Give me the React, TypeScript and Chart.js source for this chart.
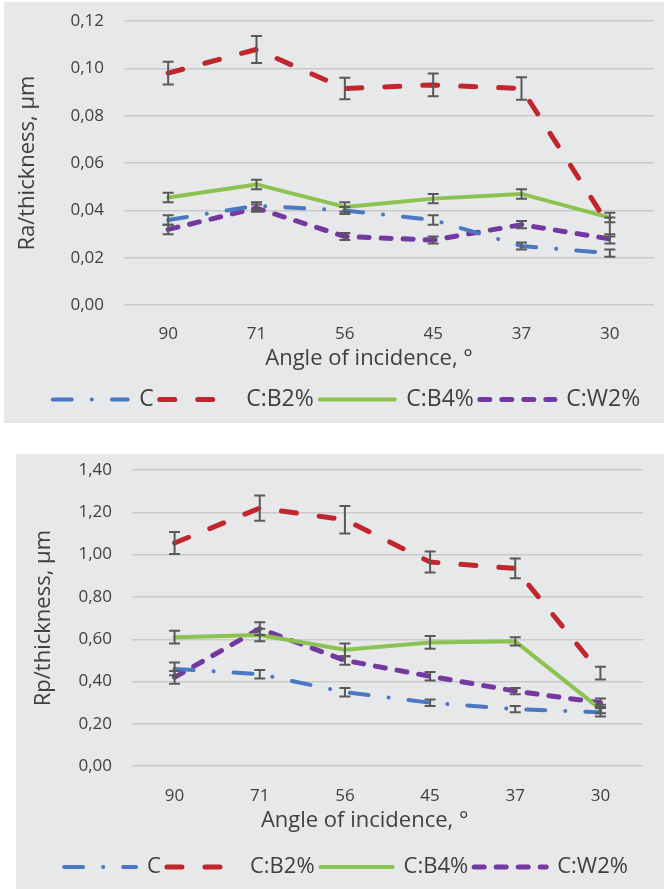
import React, { useEffect, useRef } from "react";
import { Chart, registerables } from "chart.js";

Chart.register(...registerables);

// ---------- data ----------
const categories = ["90", "71", "56", "45", "37", "30"];
const seriesNames = ["C", "C:B2%", "C:B4%", "C:W2%"];

// Ra / thickness (top chart)
const raC = [0.036, 0.042, 0.04, 0.036, 0.025, 0.022];
const raB2 = [0.098, 0.108, 0.0915, 0.093, 0.0915, 0.033];
const raB4 = [0.0455, 0.051, 0.0415, 0.045, 0.047, 0.037];
const raW2 = [0.032, 0.041, 0.029, 0.0275, 0.034, 0.028];
const raErrC = [0.002, 0.0015, 0.0015, 0.002, 0.0015, 0.0015];
const raErrB2 = [0.0048, 0.0057, 0.0045, 0.0048, 0.0047, 0.004];
const raErrB4 = [0.002, 0.002, 0.002, 0.002, 0.002, 0.002];
const raErrW2 = [0.002, 0.0015, 0.0015, 0.0015, 0.0015, 0.002];
const raTickLabels = ["0,00", "0,02", "0,04", "0,06", "0,08", "0,10", "0,12"];

// Rp / thickness (bottom chart)
const rpC = [0.46, 0.435, 0.35, 0.3, 0.27, 0.255];
const rpB2 = [1.055, 1.22, 1.165, 0.965, 0.935, 0.44];
const rpB4 = [0.61, 0.62, 0.55, 0.585, 0.59, 0.27];
const rpW2 = [0.42, 0.65, 0.5, 0.425, 0.355, 0.3];
const rpErrC = [0.03, 0.02, 0.02, 0.015, 0.015, 0.02];
const rpErrB2 = [0.052, 0.06, 0.065, 0.05, 0.047, 0.03];
const rpErrB4 = [0.03, 0.03, 0.03, 0.03, 0.02, 0.02];
const rpErrW2 = [0.03, 0.03, 0.02, 0.02, 0.015, 0.02];
const rpTickLabels = ["0,00", "0,20", "0,40", "0,60", "0,80", "1,00", "1,20", "1,40"];

const xTitle = "Angle of incidence, °";
const raTitle = "Ra/thickness, µm";
const rpTitle = "Rp/thickness, µm";

// ---------- styles ----------
const FONT = "'Open Sans', sans-serif";
const TEXT = "#404040";
const BG = "#e7e8ea";
const GRID = "#c8c9cb";
const ERR = "#595959";
const seriesStyles = [
  { color: "#4a78c2", width: 4, dash: [19, 20, 0.1, 20] },
  { color: "#c0262c", width: 5, dash: [15, 23] },
  { color: "#8cc250", width: 4, dash: [] as number[] },
  { color: "#7438a0", width: 5, dash: [10, 12] },
];

const errorBarPlugin = {
  id: "errorBars",
  afterDatasetsDraw(chart: any) {
    const { ctx } = chart;
    const yScale = chart.scales.y;
    chart.data.datasets.forEach((ds: any, i: number) => {
      const meta = chart.getDatasetMeta(i);
      meta.data.forEach((pt: any, j: number) => {
        const v = ds.data[j];
        const e = ds.errors[j];
        const yT = yScale.getPixelForValue(v + e);
        const yB = yScale.getPixelForValue(v - e);
        const x = pt.x;
        ctx.save();
        ctx.strokeStyle = ERR;
        ctx.lineWidth = 2;
        ctx.setLineDash([]);
        ctx.beginPath();
        ctx.moveTo(x, yT);
        ctx.lineTo(x, yB);
        ctx.moveTo(x - 5.5, yT);
        ctx.lineTo(x + 5.5, yT);
        ctx.moveTo(x - 5.5, yB);
        ctx.lineTo(x + 5.5, yB);
        ctx.stroke();
        ctx.restore();
      });
    });
  },
};

interface Spec {
  values: number[][];
  errors: number[][];
  max: number;
  step: number;
  tickLabels: string[];
  yTitle: string;
  yAxisWidth: number;
  yTitlePad: number;
  tickSize: number;
  titleSize: number;
  tickPad: number;
  xTitlePad: { top: number; bottom: number };
  xTitleShift: number;
  legendSize: number;
  legendBox: number;
  legendPad: number;
  padding: { left: number; right: number; top: number; bottom: number };
}

function makeConfig(spec: Spec): any {
  return {
    type: "line",
    data: {
      labels: categories,
      datasets: seriesNames.map((name, i) => ({
        label: name,
        data: spec.values[i],
        errors: spec.errors[i],
        borderColor: seriesStyles[i].color,
        backgroundColor: seriesStyles[i].color,
        borderWidth: seriesStyles[i].width,
        borderDash: seriesStyles[i].dash,
        borderCapStyle: "round",
        borderJoinStyle: "round",
        pointRadius: 0,
        pointHoverRadius: 0,
        tension: 0,
        fill: false,
      })),
    },
    options: {
      animation: false,
      responsive: false,
      events: [],
      layout: { padding: spec.padding },
      scales: {
        x: {
          offset: true,
          grid: { display: false, drawTicks: false },
          border: { display: false },
          ticks: { color: TEXT, font: { family: FONT, size: spec.tickSize }, padding: spec.tickPad },
          title: {
            display: true,
            text: xTitle + "\u00a0".repeat(spec.xTitleShift),
            color: TEXT,
            font: { family: FONT, size: spec.titleSize },
            padding: spec.xTitlePad,
          },
        },
        y: {
          min: 0,
          max: spec.max,
          afterBuildTicks: (scale: any) => {
            scale.ticks = spec.tickLabels.map((_, k) => ({ value: k * spec.step }));
          },
          afterFit: (scale: any) => {
            scale.width = spec.yAxisWidth;
          },
          grid: {
            color: GRID,
            lineWidth: 1.5,
            drawTicks: true,
            tickLength: 20,
            tickColor: "rgba(0,0,0,0)",
          },
          border: { display: false },
          ticks: {
            color: TEXT,
            font: { family: FONT, size: spec.tickSize },
            padding: 0,
            callback: (_v: any, k: number) => spec.tickLabels[k],
          },
          title: {
            display: true,
            text: spec.yTitle,
            color: TEXT,
            font: { family: FONT, size: spec.titleSize },
            padding: { top: spec.yTitlePad, bottom: 0 },
          },
        },
      },
      plugins: {
        tooltip: { enabled: false },
        legend: {
          position: "bottom",
          labels: {
            usePointStyle: true,
            pointStyle: "line",
            pointStyleWidth: spec.legendBox,
            color: TEXT,
            font: { family: FONT, size: spec.legendSize },
            padding: spec.legendPad,
            generateLabels: (chart: any) => {
              const items = Chart.defaults.plugins.legend.labels.generateLabels(chart);
              return items.map((it: any, i: number) => ({
                ...it,
                pointStyle: "line",
                strokeStyle: seriesStyles[i].color,
                fillStyle: seriesStyles[i].color,
                lineWidth: seriesStyles[i].width,
                lineDash: seriesStyles[i].dash,
                lineCap: "round",
              }));
            },
          },
        },
      },
    },
    plugins: [errorBarPlugin],
  };
}

function ChartPanel(props: {
  spec: Spec;
  left: number;
  top: number;
  width: number;
  height: number;
}) {
  const ref = useRef<HTMLCanvasElement | null>(null);
  useEffect(() => {
    if (!ref.current) return;
    const chart = new Chart(ref.current, makeConfig(props.spec));
    return () => chart.destroy();
  }, []);
  return (
    <div
      style={{
        position: "absolute",
        left: props.left,
        top: props.top,
        width: props.width,
        height: props.height,
        background: BG,
      }}
    >
      <canvas ref={ref} width={props.width} height={props.height} style={{ display: "block" }} />
    </div>
  );
}

const topSpec: Spec = {
  values: [raC, raB2, raB4, raW2],
  errors: [raErrC, raErrB2, raErrB4, raErrW2],
  max: 0.12,
  step: 0.02,
  tickLabels: raTickLabels,
  yTitle: raTitle,
  yAxisWidth: 85,
  yTitlePad: -24,
  tickSize: 17,
  titleSize: 22,
  tickPad: 19,
  xTitlePad: { top: -18, bottom: 10 },
  xTitleShift: 7,
  legendSize: 23,
  legendBox: 75,
  legendPad: 6,
  padding: { left: 35, right: 10, top: 19, bottom: 2 },
};

const bottomSpec: Spec = {
  values: [rpC, rpB2, rpB4, rpW2],
  errors: [rpErrC, rpErrB2, rpErrB4, rpErrW2],
  max: 1.4,
  step: 0.2,
  tickLabels: rpTickLabels,
  yTitle: rpTitle,
  yAxisWidth: 83,
  yTitlePad: -18,
  tickSize: 17,
  titleSize: 22,
  tickPad: 20,
  xTitlePad: { top: -19, bottom: 16 },
  xTitleShift: 8,
  legendSize: 22,
  legendBox: 72,
  legendPad: 6,
  padding: { left: 33, right: 21, top: 16, bottom: 1 },
};

export default function App() {
  return (
    <div style={{ position: "absolute", left: 0, top: 0, width: 664, height: 889, background: "#fff" }}>
      <ChartPanel spec={topSpec} left={4} top={2} width={660} height={421} />
      <ChartPanel spec={bottomSpec} left={16} top={454} width={648} height={435} />
    </div>
  );
}
